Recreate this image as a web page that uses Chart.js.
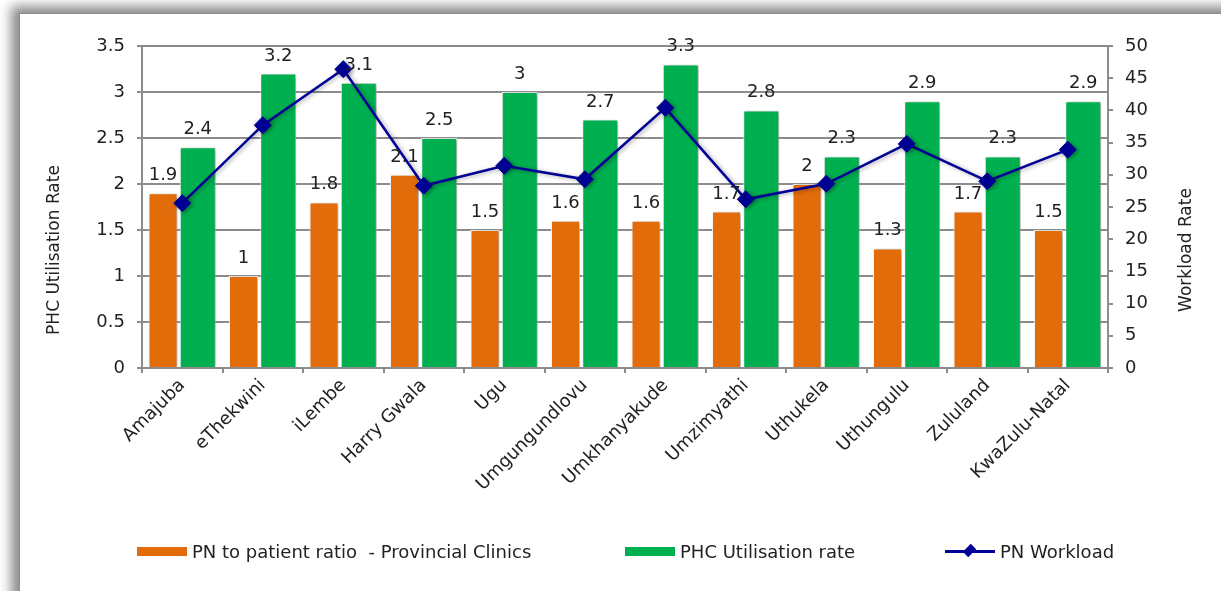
<!DOCTYPE html>
<html>
<head>
<meta charset="utf-8">
<script src="https://cdn.jsdelivr.net/npm/chart.js@4/dist/chart.umd.min.js"></script>
<style>
  html, body { margin: 0; padding: 0; background: #fff; overflow: hidden; width: 1221px; height: 591px; }
  #frame { position: absolute; left: 19px; top: 13px; width: 1300px; height: 700px; background: #fff;
           border: 1px solid #8f8f8f; box-shadow: -7px -6px 11px 1px rgba(0,0,0,0.45); }
  #chart { position: absolute; left: 0; top: 0; }
  #legend { position: absolute; left: 0; top: 0; width: 1221px; height: 591px; pointer-events: none;
            font-family: "DejaVu Sans", sans-serif; font-size: 18px; color: #222; }
  .item { position: absolute; top: 541px; height: 20px; display: flex; align-items: center; white-space: pre; }
  .swatch { width: 50px; height: 9px; margin-right: 5px; position: relative; }
  .swatch.line::before { content: ""; position: absolute; left: 0; right: 0; top: 3px; height: 3px; background: #000096; }
  .swatch.line::after { content: ""; position: absolute; left: 20px; top: -1px; width: 9px; height: 9px;
                        background: #000096; transform: rotate(45deg) scale(0.85, 1.25); }
</style>
</head>
<body>
<div id="frame"></div>
<canvas id="chart" width="1221" height="591"></canvas>
<div id="legend"></div>
<script>
// District names along the category axis
const categories = ['Amajuba', 'eThekwini', 'iLembe', 'Harry Gwala', 'Ugu', 'Umgungundlovu',
                    'Umkhanyakude', 'Umzimyathi', 'Uthukela', 'Uthungulu', 'Zululand', 'KwaZulu-Natal'];
// PN to patient ratio at provincial clinics (left axis)
const pnRatio = [1.9, 1.0, 1.8, 2.1, 1.5, 1.6, 1.6, 1.7, 2.0, 1.3, 1.7, 1.5];
// PHC utilisation rate (left axis)
const phcUtilisation = [2.4, 3.2, 3.1, 2.5, 3.0, 2.7, 3.3, 2.8, 2.3, 2.9, 2.3, 2.9];
// PN workload (right axis)
const pnWorkload = [25.6, 37.7, 46.4, 28.3, 31.4, 29.3, 40.4, 26.2, 28.6, 34.8, 29.0, 33.9];
// Axis tick settings
const leftTickStep = 0.5, leftMax = 3.5;
const rightTickStep = 5, rightMax = 50;

const seriesLabels = ['PN to patient ratio  - Provincial Clinics', 'PHC Utilisation rate', 'PN Workload'];
const leftTitle = 'PHC Utilisation Rate';
const rightTitle = 'Workload Rate';

const ORANGE = '#E36C0A', GREEN = '#00B050', NAVY = '#000096', GRID = '#8c8c8c';
const FONT = '"DejaVu Sans", sans-serif';
const fmt = v => String(Math.round(v * 10) / 10);

// Soft drop shadow behind bars and line markers
const shadowPlugin = {
  id: 'softShadow',
  beforeDatasetDraw(chart) {
    const ctx = chart.ctx;
    ctx.save();
    ctx.shadowColor = 'rgba(0,0,0,0.35)';
    ctx.shadowBlur = 4;
    ctx.shadowOffsetX = 2;
    ctx.shadowOffsetY = 1;
  },
  afterDatasetDraw(chart) { chart.ctx.restore(); }
};

// Value labels above each bar
const valueLabels = {
  id: 'valueLabels',
  afterDatasetsDraw(chart) {
    const ctx = chart.ctx;
    ctx.save();
    ctx.font = '18px ' + FONT;
    ctx.fillStyle = '#222';
    ctx.textAlign = 'center';
    ctx.textBaseline = 'alphabetic';
    chart.data.datasets.forEach((ds, di) => {
      if (ds.type !== 'bar') return;
      chart.getDatasetMeta(di).data.forEach((el, i) => {
        ctx.fillText(fmt(ds.data[i]), el.x, el.y - 13);
      });
    });
    ctx.restore();
  }
};

// Vertical axis titles, both reading bottom to top
const axisTitles = {
  id: 'axisTitles',
  afterDraw(chart) {
    const ctx = chart.ctx;
    ctx.save();
    ctx.font = '17px ' + FONT;
    ctx.fillStyle = '#222';
    ctx.textAlign = 'center';
    ctx.textBaseline = 'middle';
    [[leftTitle, 55], [rightTitle, 1187]].forEach(([t, x]) => {
      ctx.save();
      ctx.translate(x, 250);
      ctx.rotate(-Math.PI / 2);
      ctx.fillText(t, 0, 0);
      ctx.restore();
    });
    ctx.restore();
  }
};

new Chart(document.getElementById('chart'), {
  data: {
    labels: categories,
    datasets: [
      { type: 'line', label: seriesLabels[2], data: pnWorkload, yAxisID: 'y1', order: 0,
        borderColor: NAVY, backgroundColor: NAVY, borderWidth: 2.5,
        pointStyle: 'rectRot', pointRadius: 8.5, pointBackgroundColor: NAVY, pointBorderColor: NAVY, pointBorderWidth: 1 },
      { type: 'bar', label: seriesLabels[0], data: pnRatio, yAxisID: 'y', order: 1,
        backgroundColor: ORANGE, borderColor: 'rgba(255,255,255,0.85)', borderWidth: 1,
        categoryPercentage: 0.9565, barPercentage: 0.753 },
      { type: 'bar', label: seriesLabels[1], data: phcUtilisation, yAxisID: 'y', order: 1,
        backgroundColor: GREEN, borderColor: 'rgba(255,255,255,0.85)', borderWidth: 1,
        categoryPercentage: 0.770, barPercentage: 1.161 }
    ]
  },
  options: {
    responsive: false,
    animation: false,
    devicePixelRatio: 1,
    layout: { padding: { left: 30, right: 20, top: 46, bottom: 60 } },
    plugins: { legend: { display: false }, tooltip: { enabled: false } },
    scales: {
      x: {
        offset: true,
        grid: { offset: true, drawOnChartArea: false, color: GRID, lineWidth: 2, tickLength: 5 },
        border: { color: GRID, width: 2 },
        ticks: { color: '#222', font: { family: FONT, size: 18 }, minRotation: 45, maxRotation: 45, padding: 2, autoSkip: false },
        afterFit(s) { s.height = 591 - 60 - 368; }
      },
      y: {
        position: 'left', min: 0, max: leftMax,
        grid: { color: GRID, lineWidth: 2, tickLength: 5 },
        border: { color: GRID, width: 2 },
        ticks: { stepSize: leftTickStep, color: '#222', font: { family: FONT, size: 18 }, padding: 12, callback: fmt },
        afterFit(s) { s.width = 142 - 30; }
      },
      y1: {
        position: 'right', min: 0, max: rightMax,
        grid: { drawOnChartArea: false, color: GRID, lineWidth: 2, tickLength: 5 },
        border: { color: GRID, width: 2 },
        ticks: { stepSize: rightTickStep, color: '#222', font: { family: FONT, size: 18 }, padding: 12, callback: fmt },
        afterFit(s) { s.width = 1221 - 20 - 1108; }
      }
    }
  },
  plugins: [shadowPlugin, valueLabels, axisTitles]
});

// Legend row beneath the chart
const legendLeft = [137, 625, 945];
const legendKinds = [['bar', ORANGE], ['bar', GREEN], ['line', NAVY]];
const legendEl = document.getElementById('legend');
seriesLabels.forEach((text, i) => {
  const item = document.createElement('div');
  item.className = 'item';
  item.style.left = legendLeft[i] + 'px';
  const sw = document.createElement('span');
  sw.className = 'swatch' + (legendKinds[i][0] === 'line' ? ' line' : '');
  if (legendKinds[i][0] === 'bar') sw.style.background = legendKinds[i][1];
  const label = document.createElement('span');
  label.textContent = text;
  item.appendChild(sw);
  item.appendChild(label);
  legendEl.appendChild(item);
});
</script>
</body>
</html>
